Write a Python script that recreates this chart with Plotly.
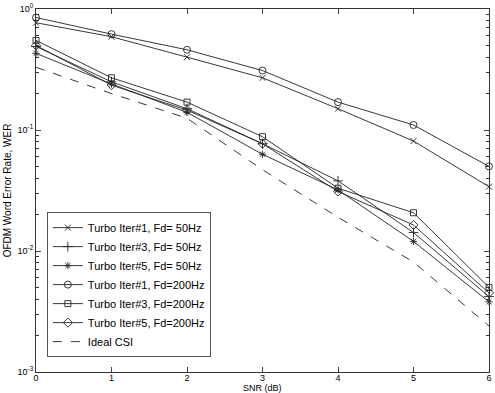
import plotly.graph_objects as go

snr = [0, 1, 2, 3, 4, 5, 6]

iter1_50 = [0.77, 0.59, 0.40, 0.27, 0.15, 0.081, 0.034]
iter3_50 = [0.49, 0.25, 0.15, 0.077, 0.038, 0.0142, 0.0042]
iter5_50 = [0.43, 0.24, 0.14, 0.063, 0.032, 0.012, 0.0038]
iter1_200 = [0.85, 0.62, 0.46, 0.31, 0.17, 0.11, 0.05]
iter3_200 = [0.55, 0.27, 0.17, 0.088, 0.033, 0.0207, 0.0050]
iter5_200 = [0.50, 0.235, 0.146, 0.077, 0.031, 0.0164, 0.0045]
ideal_csi = [0.33, 0.20, 0.125, 0.047, 0.019, 0.0081, 0.0024]

names = [
    "Turbo Iter#1, Fd= 50Hz",
    "Turbo Iter#3, Fd= 50Hz",
    "Turbo Iter#5, Fd= 50Hz",
    "Turbo Iter#1, Fd=200Hz",
    "Turbo Iter#3, Fd=200Hz",
    "Turbo Iter#5, Fd=200Hz",
    "Ideal CSI",
]
series = [iter1_50, iter3_50, iter5_50, iter1_200, iter3_200, iter5_200, ideal_csi]
symbols = ["x-thin-open", "cross-thin-open", "asterisk-open", "circle-open",
           "square-open", "diamond-open", None]
sizes = [6, 7, 6, 7, 6, 7, 0]

y_tickvals = [1e-3, 1e-2, 1e-1, 1]
y_ticktext = ["10<sup>-3</sup>", "10<sup>-2</sup>", "10<sup>-1</sup>", "10<sup>0</sup>"]
y_minor = [k * 10.0 ** e for e in (-3, -2, -1) for k in range(2, 10)]

fig = go.Figure()
for name, vals, sym, sz in zip(names, series, symbols, sizes):
    if sym is None:
        fig.add_trace(go.Scatter(x=snr, y=vals, name=name, mode="lines", cliponaxis=False,
                                 line=dict(color="#222", width=0.9, dash="dash")))
    else:
        fig.add_trace(go.Scatter(x=snr, y=vals, name=name, mode="lines+markers",
                                 cliponaxis=False,
                                 line=dict(color="#222", width=0.9),
                                 marker=dict(symbol=sym, size=sz, color="#222",
                                             line=dict(color="#222", width=0.9))))

font_family = "Liberation Sans, Arial, sans-serif"
axis_font = dict(family=font_family, size=9, color="black")
fig.update_layout(
    width=495, height=393,
    margin=dict(l=36, r=6, t=9, b=21),
    paper_bgcolor="white", plot_bgcolor="white",
    font=axis_font,
    showlegend=True,
    legend=dict(x=0.024, y=0.041, xanchor="left", yanchor="bottom",
                bgcolor="white", bordercolor="#555", borderwidth=1,
                font=dict(family=font_family, size=11, color="black"),
                tracegroupgap=0, itemwidth=30),
    xaxis=dict(range=[0, 6], tickvals=snr, ticks="inside", ticklen=5,
               ticklabelstandoff=-3,
               showline=True, mirror="ticks", linecolor="#333", linewidth=1,
               showgrid=False, zeroline=False, automargin=False),
    yaxis=dict(type="log", range=[-3, 0], tickvals=y_tickvals, ticktext=y_ticktext,
               ticks="inside", ticklen=5, automargin=False,
               minor=dict(tickvals=y_minor, ticks="inside", ticklen=3,
                          tickcolor="#333", showgrid=False),
               showline=True, mirror="ticks", linecolor="#333", linewidth=1,
               showgrid=False, zeroline=False,
               title=dict(text="OFDM Word Error Rate, WER",
                          font=dict(family=font_family, size=10, color="black"),
                          standoff=4)),
    annotations=[dict(text="SNR (dB)", x=0.5, y=-0.045, xref="paper", yref="paper",
                      xanchor="center", yanchor="middle", showarrow=False,
                      font=axis_font)],
)

fig.write_html("out.html",
               config={"displayModeBar": False},
               post_script="document.body.style.margin='0px';"
                           "document.body.style.overflow='hidden';")
